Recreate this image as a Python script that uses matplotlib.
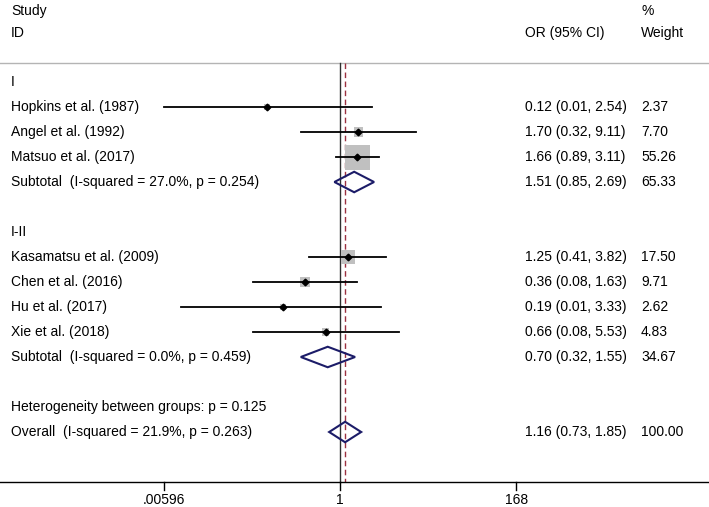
import numpy as np
import matplotlib
matplotlib.use("Agg")
import matplotlib.pyplot as plt
from matplotlib.transforms import blended_transform_factory

plt.rcParams['font.family'] = ['Liberation Sans', 'DejaVu Sans']

# study rows
studies = ["Hopkins et al. (1987)", "Angel et al. (1992)", "Matsuo et al. (2017)",
           "Kasamatsu et al. (2009)", "Chen et al. (2016)", "Hu et al. (2017)", "Xie et al. (2018)"]
study_rows = [1, 2, 3, 7, 8, 9, 10]
study_or = [0.12, 1.70, 1.66, 1.25, 0.36, 0.19, 0.66]
study_lo = [0.00596, 0.32, 0.89, 0.41, 0.08, 0.01, 0.08]
study_hi = [2.54, 9.11, 3.11, 3.82, 1.63, 3.33, 5.53]
study_ci_txt = ["0.12 (0.01, 2.54)", "1.70 (0.32, 9.11)", "1.66 (0.89, 3.11)",
                "1.25 (0.41, 3.82)", "0.36 (0.08, 1.63)", "0.19 (0.01, 3.33)", "0.66 (0.08, 5.53)"]
study_w = [2.37, 7.70, 55.26, 17.50, 9.71, 2.62, 4.83]

# pooled rows (subtotals + overall)
pooled_labels = ["Subtotal  (I-squared = 27.0%, p = 0.254)",
                 "Subtotal  (I-squared = 0.0%, p = 0.459)",
                 "Overall  (I-squared = 21.9%, p = 0.263)"]
pooled_rows = [4, 11, 14]
pooled_or = [1.51, 0.70, 1.16]
pooled_lo = [0.85, 0.32, 0.73]
pooled_hi = [2.69, 1.55, 1.85]
pooled_ci_txt = ["1.51 (0.85, 2.69)", "0.70 (0.32, 1.55)", "1.16 (0.73, 1.85)"]
pooled_w = ["65.33", "34.67", "100.00"]

groups = ["I", "I-II"]
group_rows = [0, 6]
het_text = "Heterogeneity between groups: p = 0.125"
het_row = 13

xticks = [0.00596, 1, 168]
xtick_labels = [".00596", "1", "168"]

W, H = 709, 507
fig = plt.figure(figsize=(W / 100, H / 100), dpi=100)
ax = fig.add_axes([0, 0, 1, 1])
ax.set_xscale("log")
pxu = 34.42  # pixels per ln unit
x0 = 340.0   # pixel of OR = 1
ax.set_xlim(np.exp(-x0 / pxu), np.exp((W - x0) / pxu))
row0, rowh = 82.0, 25.0
ax.set_ylim((H - row0) / rowh, -row0 / rowh)
ax.axis("off")

tr = blended_transform_factory(ax.transAxes, ax.transData)
xl, xor, xw = 11 / W, 525 / W, 641 / W
fs = 10

def prow(px):
    return (px - row0) / rowh

# header
ax.text(xl, prow(11), "Study", transform=tr, fontsize=fs, va="center")
ax.text(xl, prow(33), "ID", transform=tr, fontsize=fs, va="center")
ax.text(xor, prow(33), "OR (95% CI)", transform=tr, fontsize=fs, va="center")
ax.text(xw, prow(11), "%", transform=tr, fontsize=fs, va="center")
ax.text(xw, prow(33), "Weight", transform=tr, fontsize=fs, va="center")
ax.plot([0, 1], [prow(63)] * 2, transform=tr, color="#b4b4b4", lw=1.0, clip_on=False)

top, bot = prow(63), prow(482)
ax.plot([1, 1], [top, bot], color="#303030", lw=1.0)
ax.plot([pooled_or[2]] * 2, [top, bot], color="#9b3040", lw=1.0, dashes=(4, 2.5))

for g, r in zip(groups, group_rows):
    ax.text(xl, r, g, transform=tr, fontsize=fs, va="center")

side_max = 25 * 0.72  # points, for the largest box
for i in range(len(studies)):
    r = study_rows[i]
    ax.text(xl, r, studies[i], transform=tr, fontsize=fs, va="center")
    ax.text(xor, r, study_ci_txt[i], transform=tr, fontsize=fs, va="center")
    ax.text(xw, r, "%.2f" % study_w[i], transform=tr, fontsize=fs, va="center")
    side = side_max * np.sqrt(study_w[i] / max(study_w))
    ax.scatter([study_or[i]], [r], marker="s", s=side ** 2, color="#c0c0c0",
               edgecolors="none", zorder=2)
    ax.plot([study_lo[i], study_hi[i]], [r, r], color="black", lw=1.3, zorder=3)
    ax.plot([study_or[i]], [r], marker="D", ms=3.4, color="black", zorder=4)

for i in range(len(pooled_labels)):
    r = pooled_rows[i]
    ax.text(xl, r, pooled_labels[i], transform=tr, fontsize=fs, va="center")
    ax.text(xor, r, pooled_ci_txt[i], transform=tr, fontsize=fs, va="center")
    ax.text(xw, r, pooled_w[i], transform=tr, fontsize=fs, va="center")
    hh = 0.41
    xs = [pooled_lo[i], pooled_or[i], pooled_hi[i], pooled_or[i], pooled_lo[i]]
    ys = [r, r - hh, r, r + hh, r]
    ax.fill(xs, ys, facecolor="none", edgecolor="#1c1c68", lw=1.5, zorder=5)

ax.text(xl, het_row, het_text, transform=tr, fontsize=fs, va="center")

# bottom axis
ax.plot([0, 1], [bot, bot], transform=tr, color="black", lw=1.0, clip_on=False)
for t, lab in zip(xticks, xtick_labels):
    ax.plot([t, t], [bot, prow(490)], color="black", lw=1.0)
    ax.text(t, prow(500), lab, fontsize=fs, ha="center", va="center")

fig.savefig("out.png", dpi=100)
